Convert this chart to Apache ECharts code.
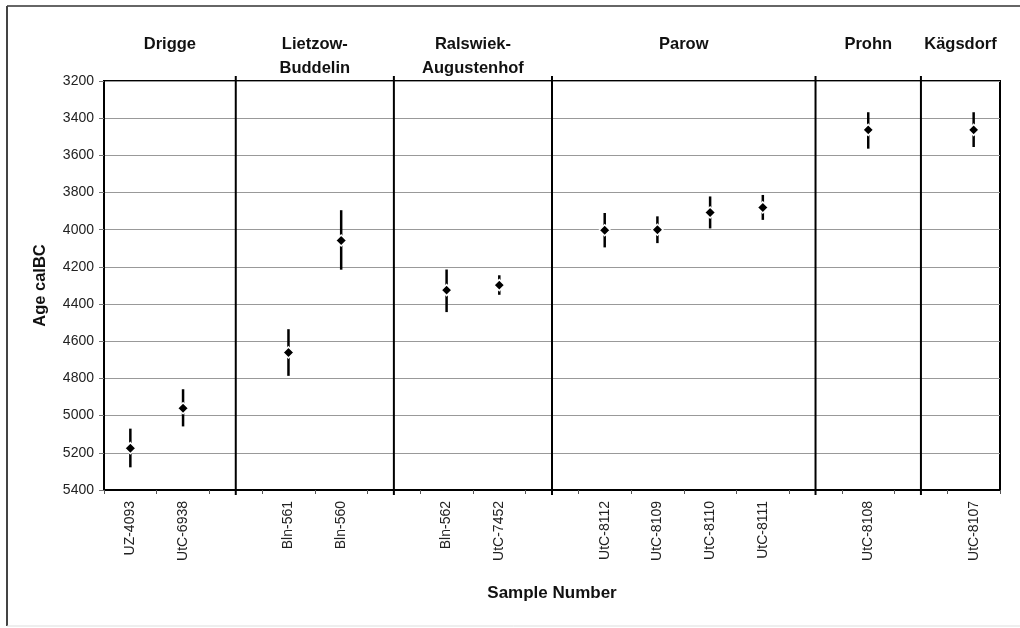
<!DOCTYPE html>
<html>
<head>
<meta charset="utf-8">
<title>Age calBC by sample</title>
<script src="https://cdn.jsdelivr.net/npm/echarts@6/dist/echarts.min.js"></script>
<style>
  html, body { margin: 0; padding: 0; background: #fff; }
  #chart { width: 1020px; height: 628px; }
</style>
</head>
<body>
<div id="chart"></div>
<script>
// samples on the x axis, '' = empty slot used as a site divider
const samples = ['UZ-4093', 'UtC-6938', '', 'Bln-561', 'Bln-560', '', 'Bln-562', 'UtC-7452', '',
  'UtC-8112', 'UtC-8109', 'UtC-8110', 'UtC-8111', '', 'UtC-8108', '', 'UtC-8107']
// calibrated age (calBC) and the range of each date
const ages = [5175, 4960, null, 4660, 4058, null, 4325, 4298, null, 4003, 4000, 3907, 3880, null, 3463, null, 3463]
const rangeYoung = [5070, 4858, null, 4535, 3895, null, 4214, 4245, null, 3910, 3928, 3821, 3813, null, 3368, null, 3368]
const rangeOld = [5278, 5058, null, 4786, 4215, null, 4443, 4350, null, 4095, 4072, 3993, 3947, null, 3564, null, 3555]
// sites and the first / last sample index belonging to each
const sites = ['Drigge', 'Lietzow-\nBuddelin', 'Ralswiek-\nAugustenhof', 'Parow', 'Prohn', 'Kägsdorf']
const siteFirst = [0, 3, 6, 9, 14, 16]
const siteLast = [1, 4, 7, 12, 14, 16]
const yTicks = { min: 3200, max: 5400, step: 200 }

const FONT = 'Arial, "Liberation Sans", sans-serif'
const lastIdx = samples.length - 1

const barData = []
const pointData = []
samples.forEach((s, i) => {
  if (ages[i] == null) return
  barData.push([i, rangeYoung[i], rangeOld[i]])
  pointData.push([i, ages[i]])
})
const dividers = []
samples.forEach((s, i) => { if (s === '') dividers.push([i]) })
const siteData = sites.map((name, k) => {
  const left = Math.max(siteFirst[k] - 1, -0.5)
  const right = Math.min(siteLast[k] + 1, lastIdx + 0.5)
  return [(left + right) / 2, name]
})

const chart = echarts.init(document.getElementById('chart'))
chart.setOption({
  animation: false,
  backgroundColor: '#fff',
  graphic: [
    { type: 'line', shape: { x1: 7, y1: 6, x2: 1020, y2: 6 }, style: { stroke: '#666', lineWidth: 2 } },
    { type: 'line', shape: { x1: 7, y1: 6, x2: 7, y2: 626 }, style: { stroke: '#444', lineWidth: 2 } },
    { type: 'line', shape: { x1: 7, y1: 626, x2: 1020, y2: 626 }, style: { stroke: '#ddd', lineWidth: 1 } }
  ],
  grid: {
    left: 104,
    right: 20,
    top: 81,
    bottom: 138,
    show: true,
    borderColor: '#000',
    borderWidth: 2
  },
  xAxis: [{
    type: 'category',
    data: samples,
    name: 'Sample Number',
    nameLocation: 'middle',
    nameGap: 95,
    nameTextStyle: { fontFamily: FONT, fontWeight: 'bold', fontSize: 17, color: '#111' },
    axisLine: { onZero: false, lineStyle: { color: '#000', width: 2 } },
    axisTick: { show: true, interval: 0, length: 4, lineStyle: { color: '#555' } },
    axisLabel: { interval: 0, rotate: 90, margin: 11, fontFamily: FONT, fontSize: 14, color: '#222' },
    splitLine: { show: false }
  }, {
    type: 'value',
    min: -0.5,
    max: lastIdx + 0.5,
    show: false
  }],
  yAxis: {
    type: 'value',
    inverse: true,
    min: yTicks.min,
    max: yTicks.max,
    interval: yTicks.step,
    name: 'Age calBC',
    nameLocation: 'middle',
    nameGap: 55,
    nameTextStyle: { fontFamily: FONT, fontWeight: 'bold', fontSize: 16.5, color: '#111' },
    axisLine: { show: true, onZero: false, lineStyle: { color: '#000', width: 2 } },
    axisTick: { show: true, length: 5, lineStyle: { color: '#777' } },
    axisLabel: { margin: 10, fontFamily: FONT, fontSize: 14, color: '#222', formatter: v => String(v) },
    splitLine: { lineStyle: { color: '#999', width: 1 } }
  },
  series: [{
    // site dividers
    type: 'custom',
    xAxisIndex: 1,
    clip: false,
    silent: true,
    data: dividers,
    renderItem: (params, api) => {
      const top = api.coord([api.value(0), yTicks.min])
      const bottom = api.coord([api.value(0), yTicks.max])
      return {
        type: 'line',
        shape: { x1: top[0], y1: top[1] - 5, x2: bottom[0], y2: bottom[1] + 5 },
        style: { stroke: '#000', lineWidth: 2 }
      }
    }
  }, {
    // site names above the plot
    type: 'custom',
    xAxisIndex: 1,
    clip: false,
    silent: true,
    data: siteData,
    renderItem: (params, api) => {
      const p = api.coord([api.value(0), yTicks.min])
      return {
        type: 'text',
        x: p[0],
        y: p[1] - 49,
        style: {
          text: siteData[params.dataIndex][1],
          align: 'center',
          verticalAlign: 'top',
          lineHeight: 24,
          fontFamily: FONT,
          fontWeight: 'bold',
          fontSize: 16.5,
          fill: '#111'
        }
      }
    }
  }, {
    // age ranges
    type: 'custom',
    silent: true,
    data: barData,
    renderItem: (params, api) => {
      const a = api.coord([api.value(0), api.value(1)])
      const b = api.coord([api.value(0), api.value(2)])
      return {
        type: 'line',
        shape: { x1: a[0], y1: a[1], x2: b[0], y2: b[1] },
        style: { stroke: '#000', lineWidth: 2.5 }
      }
    },
    z: 3
  }, {
    type: 'scatter',
    data: pointData,
    symbol: 'diamond',
    symbolSize: 11,
    itemStyle: { color: '#000', borderColor: '#fff', borderWidth: 1.5, opacity: 1 },
    z: 4
  }]
})
</script>
</body>
</html>
